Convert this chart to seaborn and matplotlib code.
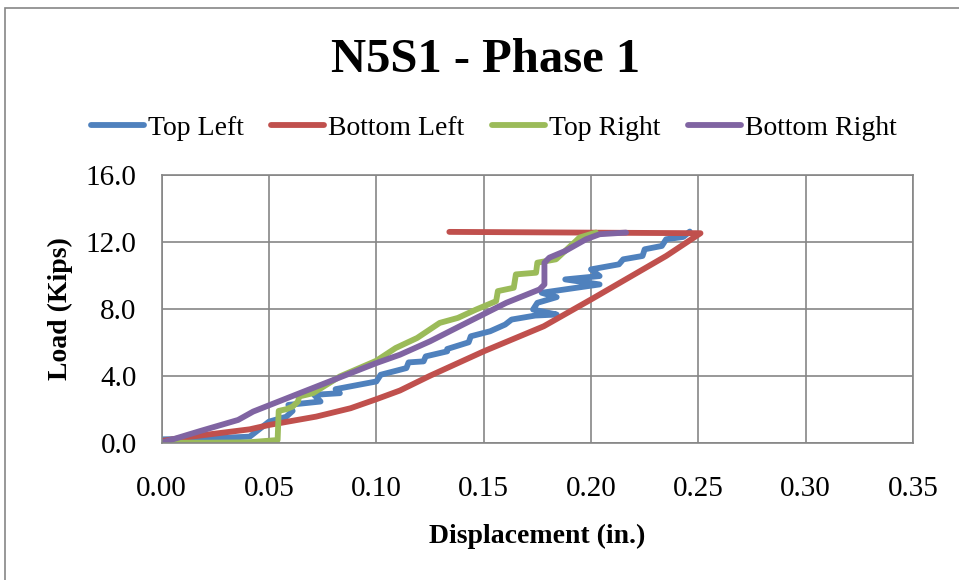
import pandas as pd
import matplotlib
matplotlib.use("Agg")
import matplotlib.pyplot as plt
import seaborn as sns
from matplotlib.patches import Rectangle

# Load vs displacement readings for each gauge
top_left_x = [0.000, 0.020, 0.041, 0.050, 0.058, 0.061, 0.059, 0.074, 0.071, 0.083,
              0.081, 0.100, 0.102, 0.114, 0.115, 0.122, 0.123, 0.133, 0.133, 0.143,
              0.144, 0.153, 0.160, 0.163, 0.174, 0.184, 0.173, 0.175, 0.184, 0.177,
              0.204, 0.188, 0.204, 0.200, 0.213, 0.215, 0.224, 0.225, 0.233, 0.235,
              0.243, 0.246]
top_left_y = [0.20, 0.25, 0.36, 1.26, 1.55, 1.90, 2.26, 2.46, 2.86, 2.96,
              3.20, 3.66, 4.06, 4.46, 4.80, 4.86, 5.16, 5.46, 5.60, 6.00,
              6.36, 6.66, 7.06, 7.36, 7.60, 7.66, 7.96, 8.36, 8.70, 8.96,
              9.46, 9.76, 9.96, 10.36, 10.66, 10.96, 11.16, 11.56, 11.76, 12.16,
              12.30, 12.62]

bottom_left_x = [0.000, 0.010, 0.026, 0.041, 0.050, 0.072, 0.088, 0.100, 0.111, 0.125,
                 0.150, 0.178, 0.200, 0.235, 0.251, 0.134]
bottom_left_y = [0.10, 0.30, 0.56, 0.80, 1.06, 1.56, 2.06, 2.60, 3.12, 4.00,
                 5.46, 6.96, 8.56, 11.16, 12.52, 12.60]

top_right_x = [0.000, 0.020, 0.040, 0.0540, 0.0545, 0.058, 0.061, 0.0635, 0.064, 0.0705,
               0.083, 0.100, 0.109, 0.119, 0.1295, 0.138, 0.1465, 0.1558, 0.1566, 0.164,
               0.165, 0.1744, 0.175, 0.1837, 0.193, 0.1946, 0.2023]
top_right_y = [0.00, 0.00, 0.02, 0.16, 1.90, 2.00, 2.16, 2.46, 2.76, 2.96,
               3.96, 4.90, 5.66, 6.26, 7.16, 7.46, 7.96, 8.46, 9.06, 9.26,
               10.06, 10.16, 10.76, 10.96, 12.06, 12.26, 12.56]

bottom_right_x = [0.000, 0.018, 0.0356, 0.0426, 0.0643, 0.100, 0.111, 0.125, 0.1419, 0.1605,
                  0.176, 0.1783, 0.1783, 0.1806, 0.188, 0.1977, 0.204, 0.2163]
bottom_right_y = [0.00, 0.70, 1.36, 1.86, 2.96, 4.76, 5.26, 6.06, 7.16, 8.36,
                  9.16, 9.46, 10.76, 11.06, 11.46, 12.16, 12.46, 12.56]

series_names = ["Top Left", "Bottom Left", "Top Right", "Bottom Right"]
series_colors = ["#4F81BD", "#C0504D", "#9BBB59", "#8064A2"]

frames = []
for name, xs, ys in zip(series_names,
                        [top_left_x, bottom_left_x, top_right_x, bottom_right_x],
                        [top_left_y, bottom_left_y, top_right_y, bottom_right_y]):
    frames.append(pd.DataFrame({"disp": xs, "load": ys, "gauge": name}))
df = pd.concat(frames, ignore_index=True)

sns.set_theme(style="white")
plt.rcParams["font.family"] = ["Liberation Serif", "DejaVu Serif"]
plt.rcParams["text.color"] = "black"
plt.rcParams["axes.labelcolor"] = "black"

W, H = 959, 580
fig = plt.figure(figsize=(W / 100, H / 100), dpi=100)
ax = fig.add_axes([161.7 / W, 1 - 442.7 / H, (913 - 161.7) / W, (442.7 - 175) / H])

sns.lineplot(data=df, x="disp", y="load", hue="gauge", hue_order=series_names,
             palette=series_colors, sort=False, estimator=None, linewidth=4.2,
             solid_capstyle="round", solid_joinstyle="round", ax=ax)

ax.set_xlim(0, 0.35)
ax.set_ylim(0, 16)
ax.set_xticks([0.0, 0.05, 0.10, 0.15, 0.20, 0.25, 0.30, 0.35])
ax.set_yticks([0, 4, 8, 12, 16])
ax.xaxis.set_major_formatter(matplotlib.ticker.FormatStrFormatter("%.2f"))
ax.yaxis.set_major_formatter(matplotlib.ticker.FormatStrFormatter("%.1f"))
ax.grid(True, color="#868686", linewidth=1.2)
ax.set_axisbelow(True)
for sp in ax.spines.values():
    sp.set_color("#868686")
    sp.set_linewidth(1.2)
ax.tick_params(axis="both", direction="out", length=6, width=1.2, color="#868686",
               labelsize=21, labelcolor="black")
ax.tick_params(axis="x", pad=18)
ax.tick_params(axis="y", pad=12)

ax.set_xlabel("Displacement (in.)", fontsize=20, fontweight="bold", labelpad=16)
ax.set_ylabel("Load (Kips)", fontsize=20, fontweight="bold", labelpad=9)

handles, labels = ax.get_legend_handles_labels()
ax.legend(handles, labels, loc="center", bbox_to_anchor=(494 / W, 1 - 128 / H),
          bbox_transform=fig.transFigure, ncol=4, frameon=False, fontsize=20,
          handlelength=1.9, handletextpad=0.15, columnspacing=1.0)

fig.text(486 / W, 1 - 60 / H, "N5S1 - Phase 1", ha="center", va="center",
         fontsize=35, fontweight="bold")

# chart border
fig.patches.append(Rectangle((5 / W, -0.05), 1.2, 1 - 8 / H + 0.05,
                             transform=fig.transFigure, fill=False,
                             edgecolor="#868686", linewidth=1.2))

fig.savefig("out.png", dpi=100)
